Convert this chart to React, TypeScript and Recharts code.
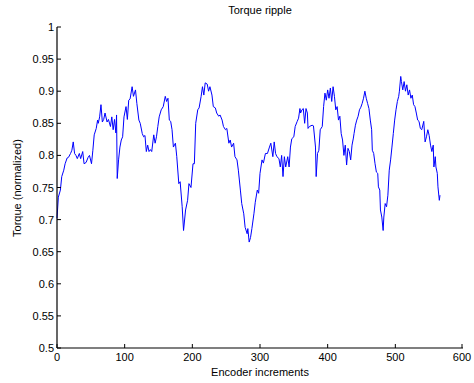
import React from "react";
import { LineChart, Line, XAxis, YAxis } from "recharts";

// encoder position of each sample
const encoder = [
  0, 2, 5, 7, 10, 12, 15, 17, 20, 22, 24, 26, 28, 30, 33, 35, 38, 40, 43, 46, 48, 51, 53, 55, 58, 60, 61, 63, 65, 67,
  69, 71, 74, 76, 79, 81, 83, 85, 87, 88, 89, 91, 93, 95, 97, 99, 102, 104, 106, 108, 111, 113, 116, 118, 121, 123, 126, 128, 130, 132,
  134, 136, 138, 140, 143, 145, 147, 149, 151, 154, 157, 160, 162, 164, 166, 168, 170, 172, 175, 177, 180, 182, 185, 187, 190, 193, 195, 198, 201, 203,
  205, 208, 210, 213, 215, 217, 219, 222, 224, 226, 229, 231, 234, 236, 239, 241, 244, 246, 249, 251, 254, 256, 258, 261, 263, 266, 268, 271, 273, 276,
  278, 281, 282, 284, 286, 288, 291, 293, 296, 298, 300, 303, 305, 308, 311, 314, 316, 319, 321, 323, 325, 328, 330, 332, 334, 336, 338, 341, 343, 345,
  347, 350, 352, 355, 357, 359, 360, 362, 364, 366, 368, 370, 371, 373, 377, 379, 382, 383, 385, 387, 389, 392, 394, 396, 398, 400, 402, 404, 406, 408,
  410, 412, 414, 416, 418, 420, 422, 424, 426, 428, 430, 432, 434, 436, 438, 439, 441, 443, 445, 447, 449, 451, 453, 455, 457, 459, 461, 463, 465, 466,
  468, 470, 472, 474, 475, 477, 478, 480, 482, 483, 485, 487, 489, 491, 493, 495, 497, 499, 501, 503, 505, 506, 508, 509, 511, 513, 515, 517, 519, 521,
  523, 525, 527, 529, 531, 533, 535, 537, 539, 542, 544, 546, 548, 550, 552, 554, 556, 557, 559, 560, 562, 563, 565, 566,
];

const torque = [
  0.702, 0.735, 0.746, 0.767, 0.777, 0.787, 0.796, 0.797, 0.803, 0.808, 0.821, 0.803, 0.8, 0.795, 0.803, 0.795, 0.806, 0.787, 0.789, 0.797, 0.8, 0.787, 0.808, 0.832, 0.842, 0.855, 0.85, 0.86, 0.879, 0.852,
  0.856, 0.866, 0.852, 0.856, 0.845, 0.86, 0.84, 0.856, 0.835, 0.863, 0.764, 0.793, 0.813, 0.824, 0.829, 0.86, 0.876, 0.856, 0.886, 0.888, 0.907, 0.892, 0.902, 0.881, 0.855, 0.85, 0.834, 0.829, 0.831, 0.806,
  0.816, 0.806, 0.809, 0.806, 0.832, 0.819, 0.829, 0.845, 0.86, 0.871, 0.876, 0.892, 0.884, 0.889, 0.855, 0.853, 0.84, 0.813, 0.819, 0.798, 0.756, 0.759, 0.72, 0.683, 0.715, 0.73, 0.756, 0.75, 0.787, 0.787,
  0.85, 0.871, 0.874, 0.892, 0.907, 0.894, 0.913, 0.911, 0.9, 0.907, 0.894, 0.876, 0.874, 0.866, 0.861, 0.863, 0.855, 0.845, 0.84, 0.842, 0.819, 0.824, 0.813, 0.819, 0.798, 0.793, 0.777, 0.746, 0.725, 0.709,
  0.688, 0.678, 0.686, 0.665, 0.672, 0.686, 0.709, 0.727, 0.746, 0.741, 0.772, 0.793, 0.788, 0.803, 0.803, 0.813, 0.819, 0.798, 0.821, 0.803, 0.798, 0.795, 0.782, 0.8, 0.767, 0.798, 0.782, 0.798, 0.782, 0.813,
  0.826, 0.829, 0.845, 0.853, 0.858, 0.873, 0.866, 0.871, 0.873, 0.85, 0.873, 0.866, 0.842, 0.845, 0.847, 0.846, 0.813, 0.767, 0.803, 0.808, 0.84, 0.845, 0.876, 0.897, 0.886, 0.902, 0.889, 0.905, 0.884, 0.907,
  0.892, 0.871, 0.876, 0.855, 0.861, 0.834, 0.824, 0.8, 0.816, 0.785, 0.811, 0.806, 0.793, 0.816, 0.827, 0.834, 0.847, 0.855, 0.861, 0.871, 0.875, 0.881, 0.889, 0.9, 0.889, 0.881, 0.873, 0.855, 0.84, 0.808,
  0.803, 0.787, 0.774, 0.772, 0.751, 0.746, 0.715, 0.704, 0.683, 0.704, 0.725, 0.72, 0.738, 0.777, 0.793, 0.813, 0.834, 0.855, 0.871, 0.884, 0.892, 0.9, 0.923, 0.915, 0.902, 0.915, 0.9, 0.91, 0.894, 0.902,
  0.889, 0.894, 0.879, 0.876, 0.866, 0.855, 0.853, 0.842, 0.84, 0.853, 0.821, 0.829, 0.84, 0.831, 0.816, 0.806, 0.816, 0.782, 0.798, 0.782, 0.772, 0.751, 0.73, 0.738,
];

const xTicks = [0, 100, 200, 300, 400, 500, 600];
const yTicks = [0.5, 0.55, 0.6, 0.65, 0.7, 0.75, 0.8, 0.85, 0.9, 0.95, 1];

const data = encoder.map((e, i) => ({ enc: e, torque: torque[i] }));

const FONT = "'Liberation Sans', Arial, sans-serif";
const TICK_LEN = 4;

const fmtY = (v: number) => String(Number(v.toFixed(2)));

// matlab-ish ticks: tick marks point into the plot box
function BottomTick(props: any) {
  const { x, y, payload } = props;
  return (
    <g>
      <line x1={x} x2={x} y1={y} y2={y - TICK_LEN} stroke="#000" />
      <text x={x} y={y + 13} textAnchor="middle" fontSize={11} fontFamily={FONT} fill="#000">
        {payload.value}
      </text>
    </g>
  );
}

function TopTick(props: any) {
  const { x, y } = props;
  return <line x1={x} x2={x} y1={y} y2={y + TICK_LEN} stroke="#000" />;
}

function LeftTick(props: any) {
  const { x, y, payload } = props;
  return (
    <g>
      <line x1={x} x2={x + TICK_LEN} y1={y} y2={y} stroke="#000" />
      <text x={x - 3} y={y + 4} textAnchor="end" fontSize={11} fontFamily={FONT} fill="#000">
        {fmtY(payload.value)}
      </text>
    </g>
  );
}

function RightTick(props: any) {
  const { x, y } = props;
  return <line x1={x} x2={x - TICK_LEN} y1={y} y2={y} stroke="#000" />;
}

export default function App() {
  return (
    <div style={{ position: "absolute", left: 0, top: 0, width: 474, height: 383, background: "#fff", fontFamily: FONT }}>
      <LineChart width={474} height={383} data={data} margin={{ top: 27, right: 11, bottom: 0, left: 0 }}>
        <XAxis
          xAxisId="b"
          dataKey="enc"
          type="number"
          domain={[0, 600]}
          ticks={xTicks}
          height={35}
          tickSize={0}
          tickMargin={0}
          tick={<BottomTick />}
          axisLine={{ stroke: "#000", strokeWidth: 1.2 }}
          tickLine={false}
        />
        <XAxis
          xAxisId="t"
          dataKey="enc"
          type="number"
          orientation="top"
          domain={[0, 600]}
          ticks={xTicks}
          height={0}
          tickSize={0}
          tickMargin={0}
          tick={<TopTick />}
          axisLine={{ stroke: "#000", strokeWidth: 1.2 }}
          tickLine={false}
        />
        <YAxis
          yAxisId="l"
          type="number"
          domain={[0.5, 1]}
          ticks={yTicks}
          width={57}
          tickSize={0}
          tickMargin={0}
          tick={<LeftTick />}
          axisLine={{ stroke: "#000", strokeWidth: 1.2 }}
          tickLine={false}
          allowDataOverflow
        />
        <YAxis
          yAxisId="r"
          type="number"
          orientation="right"
          domain={[0.5, 1]}
          ticks={yTicks}
          width={0}
          tickSize={0}
          tickMargin={0}
          tick={<RightTick />}
          axisLine={{ stroke: "#000", strokeWidth: 1.2 }}
          tickLine={false}
          allowDataOverflow
        />
        <Line
          xAxisId="b"
          yAxisId="l"
          type="linear"
          dataKey="torque"
          stroke="#0000ff"
          strokeWidth={1}
          dot={false}
          isAnimationActive={false}
        />
      </LineChart>
      <div style={{ position: "absolute", left: 57, width: 406, top: 4, textAlign: "center", fontSize: 11 }}>Torque ripple</div>
      <div style={{ position: "absolute", left: 57, width: 406, top: 366, textAlign: "center", fontSize: 11 }}>Encoder increments</div>
      <div
        style={{
          position: "absolute",
          left: 17,
          top: 188,
          fontSize: 11,
          whiteSpace: "nowrap",
          transform: "translate(-50%, -50%) rotate(-90deg)",
        }}
      >
        Torque (normalized)
      </div>
    </div>
  );
}
